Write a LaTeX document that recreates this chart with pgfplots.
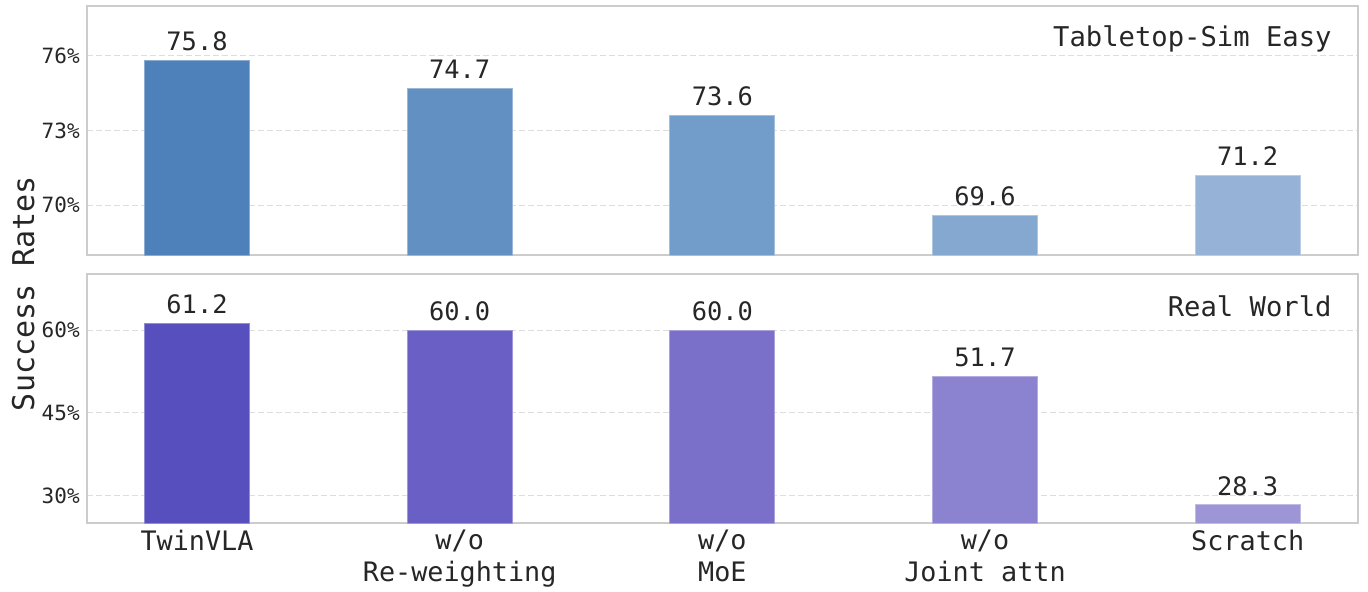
\documentclass[border=0pt]{standalone}
\usepackage{pgfplots}
\pgfplotsset{compat=1.18}
\usepackage{fontspec}
\setmainfont{DejaVu Sans Mono}

\definecolor{txt}{HTML}{262626}
\definecolor{axgrey}{HTML}{CCCCCC}
\definecolor{gridgrey}{HTML}{DDDDDD}
% top panel, blues
\definecolor{b1}{HTML}{4E80BA}
\definecolor{b2}{HTML}{6390C3}
\definecolor{b3}{HTML}{729CC9}
\definecolor{b4}{HTML}{85A8D0}
\definecolor{b5}{HTML}{97B2D7}
% bottom panel, purples
\definecolor{p1}{HTML}{584FBE}
\definecolor{p2}{HTML}{6A5FC5}
\definecolor{p3}{HTML}{7A70CA}
\definecolor{p4}{HTML}{8B83CF}
\definecolor{p5}{HTML}{9D96D6}

\pgfplotsset{
  panel/.style={
    scale only axis, width=635.5pt, height=124.5pt,
    xmin=-0.42, xmax=4.42,
    ybar, bar width=0.4, bar shift=0pt,
    axis line style={draw=axgrey, line width=0.8pt},
    ymajorgrids,
    grid style={draw=gridgrey, dash pattern=on 3pt off 1.5pt, line width=0.5pt},
    major tick length=0pt,
    xtick={0,...,4},
    tick label style={text=txt},
    yticklabel style={font=\fontsize{10.5}{12}\selectfont},
    nodes near coords={\pgfmathprintnumber[fixed,fixed zerofill,precision=1,assume math mode=true]{\pgfplotspointmeta}},
    every node near coord/.append style={font=\fontsize{12.7}{14}\selectfont, text=txt, inner sep=0pt, yshift=4.5pt},
  },
  bar/.style={fill=#1, draw=#1!65!white, line width=0.5pt},
}

\begin{document}
\begin{tikzpicture}
\begin{axis}[panel, name=top, at={(0,0)}, anchor=north west,
  ymin=68, ymax=78,
  ytick={70,73,76}, yticklabels={70\%,73\%,76\%},
  xticklabels={}]
  \addplot[bar=b1] coordinates {(0,75.8)};
  \addplot[bar=b2] coordinates {(1,74.7)};
  \addplot[bar=b3] coordinates {(2,73.6)};
  \addplot[bar=b4] coordinates {(3,69.6)};
  \addplot[bar=b5] coordinates {(4,71.2)};
  \node[anchor=north east, inner sep=0pt, text=txt, font=\fontsize{13.6}{16}\selectfont,
        xshift=-13pt, yshift=-9.5pt] at (rel axis cs:1,1) {Tabletop-Sim Easy};
\end{axis}

\begin{axis}[panel, name=bottom, at={(0,-134pt)}, anchor=north west,
  ymin=25, ymax=70.2,
  ytick={30,45,60}, yticklabels={30\%,45\%,60\%},
  xticklabels={TwinVLA,{w/o\\Re-weighting},{w/o\\MoE},{w/o\\Joint attn},Scratch},
  xticklabel style={align=center, anchor=north, font=\fontsize{13.4}{15.8}\selectfont}]
  \addplot[bar=p1] coordinates {(0,61.2)};
  \addplot[bar=p2] coordinates {(1,60.0)};
  \addplot[bar=p3] coordinates {(2,60.0)};
  \addplot[bar=p4] coordinates {(3,51.7)};
  \addplot[bar=p5] coordinates {(4,28.3)};
  \node[anchor=north east, inner sep=0pt, text=txt, font=\fontsize{13.6}{16}\selectfont,
        xshift=-13pt, yshift=-10.5pt] at (rel axis cs:1,1) {Real World};
\end{axis}

\node[rotate=90, text=txt, font=\fontsize{15}{18}\selectfont] at (-31.8pt,-143.75pt) {Success Rates};

\pgfresetboundingbox
\path (-43.35pt,3pt) rectangle (640.5pt,-292.5pt);
\end{tikzpicture}
\end{document}
